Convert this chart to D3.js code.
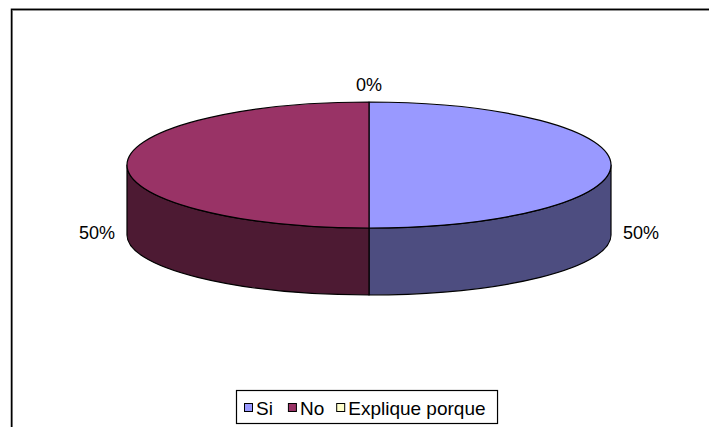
<!DOCTYPE html>
<html>
<head>
<meta charset="utf-8">
<script src="https://cdn.jsdelivr.net/npm/d3@7"></script>
<style>
  body { margin: 0; background: #fff; }
  text { font-family: "Liberation Sans", Arial, sans-serif; }
</style>
</head>
<body>
<div id="chart-container"></div>
<script>
// 3d pie, excel style
const svgWidth = 709;
const svgHeight = 427;

const categories = ["Si", "No", "Explique porque"];
const values = [50, 50, 0];
const topColors = ["#9999FF", "#993366", "#FFFFCC"];
const sideColors = ["#4D4D80", "#4D1A33", "#808066"];

// pie geometry (top face and bottom face ellipses)
const cx = 369;
const cy = 165;
const rx = 242;
const ry = 63;
const cyB = 235;
const ryB = 60;

const svg = d3.select("#chart-container")
    .append("svg")
    .attr("width", svgWidth)
    .attr("height", svgHeight);

svg.append("rect")
    .attr("width", svgWidth)
    .attr("height", svgHeight)
    .attr("fill", "#fff");

// chart area border (cut off at right and bottom)
svg.append("rect")
    .attr("x", 12.5)
    .attr("y", 10.5)
    .attr("width", 760)
    .attr("height", 500)
    .attr("fill", "none")
    .attr("stroke", "#999")
    .attr("stroke-width", 1);
svg.append("rect")
    .attr("x", 11.5)
    .attr("y", 9.3)
    .attr("width", 760)
    .attr("height", 500)
    .attr("fill", "none")
    .attr("stroke", "#000")
    .attr("stroke-width", 1.5);

const data = categories.map((c, i) => ({ name: c, value: values[i], top: topColors[i], side: sideColors[i] }));

const pie = d3.pie()
    .sort(null)
    .value(d => d.value)
    .startAngle(0)
    .endAngle(2 * Math.PI);

const arcs = pie(data);

// angle is clockwise from 12 o'clock
function topPt(a) { return [cx + rx * Math.sin(a), cy - ry * Math.cos(a)]; }
function botPt(a) { return [cx + rx * Math.sin(a), cyB - ryB * Math.cos(a)]; }

function topPath(d) {
    const p0 = topPt(d.startAngle), p1 = topPt(d.endAngle);
    const large = d.endAngle - d.startAngle > Math.PI ? 1 : 0;
    return `M${cx},${cy}L${p0[0]},${p0[1]}A${rx},${ry} 0 ${large} 1 ${p1[0]},${p1[1]}Z`;
}

function sidePath(d) {
    const s = Math.max(d.startAngle, Math.PI / 2);
    const e = Math.min(d.endAngle, 3 * Math.PI / 2);
    if (s >= e) return null;
    const t0 = topPt(s), t1 = topPt(e), b0 = botPt(s), b1 = botPt(e);
    const large = e - s > Math.PI ? 1 : 0;
    return `M${t0[0]},${t0[1]}A${rx},${ry} 0 ${large} 1 ${t1[0]},${t1[1]}` +
        `L${b1[0]},${b1[1]}A${rx},${ryB} 0 ${large} 0 ${b0[0]},${b0[1]}Z`;
}

svg.selectAll(".side")
    .data(arcs.filter(d => sidePath(d) !== null))
    .enter()
    .append("path")
    .attr("class", "side")
    .attr("d", sidePath)
    .attr("fill", d => d.data.side)
    .attr("stroke", "#000")
    .attr("stroke-width", 1.2)
    .attr("stroke-linejoin", "round");

svg.selectAll(".top")
    .data(arcs.filter(d => d.endAngle > d.startAngle))
    .enter()
    .append("path")
    .attr("class", "top")
    .attr("d", topPath)
    .attr("fill", d => d.data.top)
    .attr("stroke", "#000")
    .attr("stroke-width", 1.2)
    .attr("stroke-linejoin", "round");

// percent labels outside the pie
const total = d3.sum(values);
const fmt = d3.format(".0%");
svg.selectAll(".lbl")
    .data(arcs)
    .enter()
    .append("text")
    .attr("class", "lbl")
    .each(function (d) {
        const mid = (d.startAngle + d.endAngle) / 2;
        const s = Math.sin(mid), c = Math.cos(mid);
        let anchor = "middle";
        if (s > 0.1) anchor = "start";
        if (s < -0.1) anchor = "end";
        const x = cx + (rx + 12) * s;
        const y = cy + 68 * Math.abs(s) - (ry + 17) * c;
        d3.select(this)
            .attr("x", x)
            .attr("y", y)
            .attr("dy", "0.35em")
            .attr("text-anchor", anchor);
    })
    .attr("font-size", 18)
    .attr("fill", "#000")
    .text(d => fmt(d.data.value / total));

// legend
const legend = svg.append("g").attr("class", "legend");
const legBox = legend.append("rect")
    .attr("fill", "#fff")
    .attr("stroke", "#000")
    .attr("stroke-width", 1.2);

let lx = 244;
const ly = 408;
const gaps = [15, 12, 12];
data.forEach(function (d, i) {
    legend.append("rect")
        .attr("x", lx + 0.5)
        .attr("y", ly - 4.5)
        .attr("width", 8)
        .attr("height", 8)
        .attr("fill", d.top)
        .attr("stroke", "#000")
        .attr("stroke-width", 1);
    const t = legend.append("text")
        .attr("x", lx + 12)
        .attr("y", ly)
        .attr("dy", "0.35em")
        .attr("font-size", 19)
        .text(d.name);
    lx = lx + 12 + t.node().getComputedTextLength() + gaps[i];
});

legBox
    .attr("x", 236.5)
    .attr("y", 390.5)
    .attr("width", lx - 236.5)
    .attr("height", 33);
</script>
</body>
</html>
